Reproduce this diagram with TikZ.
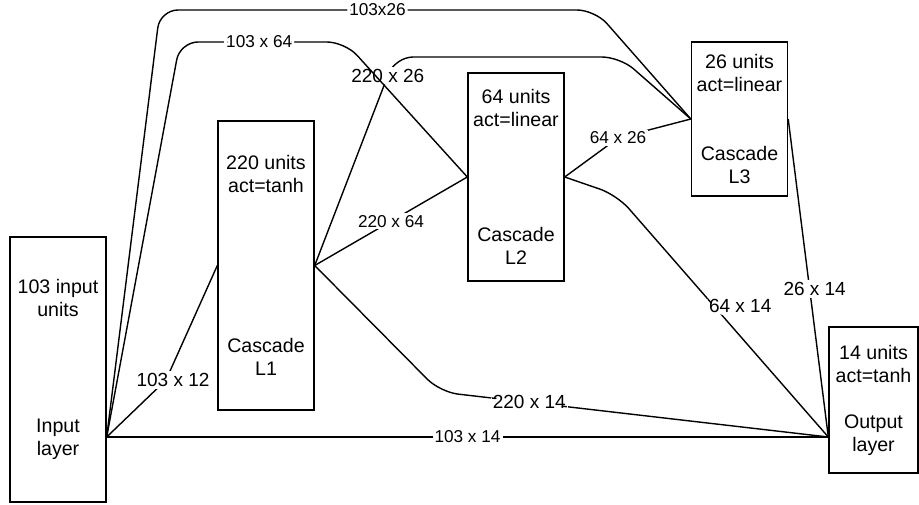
\documentclass[tikz,border=0pt]{standalone}
\usepackage{amsmath}
\usepackage{fontspec}
\setmainfont{Liberation Sans}
\usepackage{tikz}

\begin{document}
\begin{tikzpicture}[x=0.5pt, y=-0.5pt, line width=0.7pt]
			\tikzstyle{layer} = [draw, align=center, inner sep=1pt, minimum width=48pt, font=\fontsize{9.8}{11.5}\selectfont]
			\tikzstyle{lbl} = [fill=white, inner sep=1pt, font=\fontsize{8.6}{10}\selectfont]
			\tikzstyle{lblbig} = [lbl, font=\fontsize{9.5}{11}\selectfont]
			\useasboundingbox (0,0) rectangle (919,504);
			\node[layer, minimum height=132.5pt] (in) at (58,369.5) {103 input\\units\\[46.5pt]Input\\layer};
			\node[layer, minimum height=144.5pt] (l1) at (266,265.5) {220 units\\act=tanh\\[68.5pt]Cascade\\L1};
			\node[layer, minimum height=104pt] (l2) at (516,177) {64 units\\act=linear\\[46pt]Cascade\\L2};
			\node[layer, minimum height=77pt] (l3) at (739.5,119) {26 units\\act=linear\\[23pt]Cascade\\L3};
			\node[layer, minimum width=44.5pt, minimum height=73pt] (out) at (873.5,400) {14 units\\act=tanh\\[11.5pt]Output\\layer};
			\coordinate (inP) at ([yshift=-33.75pt]in.east);
			\coordinate (outP) at (inP -| out.west);
			\draw (inP) -- node[lbl]{103 x 14} (outP);
			\draw (inP) -- (166,380) node[lblbig, xshift=3.5pt]{103 x 12} -- (l1.west);
			\draw[rounded corners=9pt] (l1.east) -- node[lblbig, pos=0.91]{220 x 26} (395,57) -- (620,57) -- (l3.west);
			\draw[rounded corners=9pt] (inP) -- (180,42) -- node[lbl, pos=0.48]{103 x 64} (345,42) -- (l2.west);
			\draw[rounded corners=9pt] (inP) -- (160,10) -- node[lbl, pos=0.5]{103x26} (595,10) -- (l3.west);
			\draw (l1.east) -- node[lbl]{220 x 64} (l2.west);
			\draw[rounded corners=9pt] (l1.east) -- (440,392) -- node[lblbig, pos=0.23]{220 x 14} (outP);
			\draw (l2.east) -- (618,138) node[lbl]{64 x 26} -- (l3.west);
			\draw[rounded corners=9pt] (l2.east) -- (617,195) -- node[lblbig, pos=0.46, xshift=13pt]{64 x 14} (outP);
			\draw (l3.east) -- node[lblbig, pos=0.535, xshift=2.5pt]{26 x 14} (outP);
		\end{tikzpicture}
\end{document}
